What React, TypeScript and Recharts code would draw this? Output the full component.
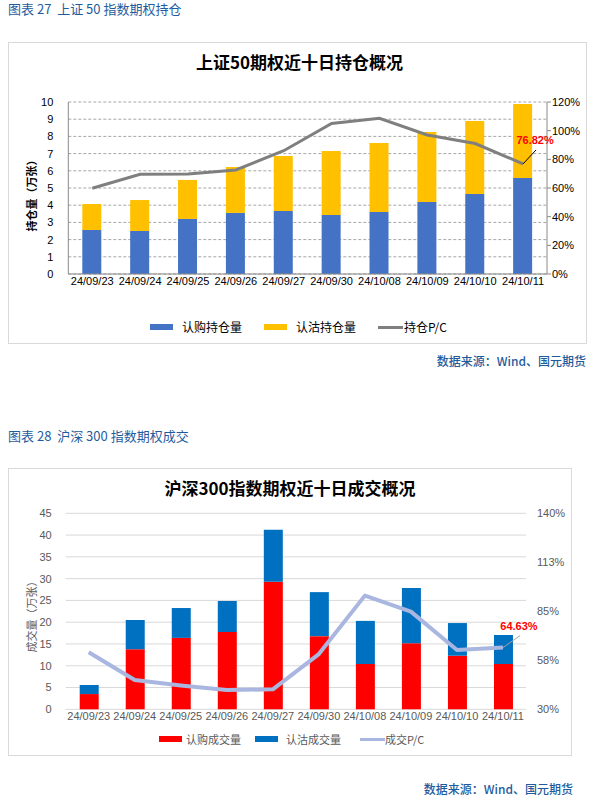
import React from 'react'
import {
  ComposedChart,
  Bar,
  Line,
  XAxis,
  YAxis,
  CartesianGrid,
  LabelList,
} from 'recharts'

// ─── Data ─────────────────────────────────────────────────────────────────────

const dates = [
  '24/09/23', '24/09/24', '24/09/25', '24/09/26', '24/09/27',
  '24/09/30', '24/10/08', '24/10/09', '24/10/10', '24/10/11',
]

// 上证50 持仓（万张）
const oiCall = [2.56, 2.5, 3.2, 3.55, 3.66, 3.43, 3.6, 4.19, 4.65, 5.58]
const oiPut = [1.51, 1.8, 2.27, 2.67, 3.2, 3.72, 4.02, 4.07, 4.25, 4.3]
const oiPC = [59.8, 69.6, 69.8, 72.6, 86.0, 105.0, 108.6, 97.0, 91.0, 76.82]

// 沪深300 成交（万张）
const volCall = [3.5, 13.8, 16.4, 17.75, 29.3, 16.8, 10.4, 15.15, 12.3, 10.4]
const volPut = [2.08, 6.7, 6.85, 7.11, 11.9, 10.1, 9.9, 12.7, 7.5, 6.65]
const volPC = [62.0, 46.4, 43.4, 40.8, 41.2, 61.0, 93.8, 84.8, 63.3, 64.63]

const oiLeftTicks = [0, 1, 2, 3, 4, 5, 6, 7, 8, 9, 10]
const oiRightTicks = [0, 20, 40, 60, 80, 100, 120]
const volLeftTicks = [0, 5, 10, 15, 20, 25, 30, 35, 40, 45]
const volRightTicks = [30, 57.5, 85, 112.5, 140]

const oiData = dates.map((d, i) => ({ date: d, call: oiCall[i], put: oiPut[i], pc: oiPC[i] }))
const volData = dates.map((d, i) => ({ date: d, call: volCall[i], put: volPut[i], pc: volPC[i] }))

// ─── Styles ───────────────────────────────────────────────────────────────────

const CJK = '"Noto Sans CJK SC", "Liberation Sans", sans-serif'
const NUM = '"Liberation Sans", Arial, sans-serif'
const BLUE_TEXT = '#1F5C9E'

const abs = (left: number, top: number, extra: React.CSSProperties = {}): React.CSSProperties => ({
  position: 'absolute',
  left,
  top,
  ...extra,
})

// ─── Last point label with leader line ────────────────────────────────────────

function makeLastLabel(lastIndex: number, dx: number, dy: number, lineColor: string) {
  return function LastLabel(props: any) {
    const { x, y, index, value } = props
    if (index !== lastIndex || x == null || y == null) return null
    return (
      <g>
        <line x1={x} y1={y} x2={x + dx} y2={y - dy} stroke={lineColor} strokeWidth={1} />
        <text
          x={x + dx - 1}
          y={y - dy - 6}
          textAnchor="middle"
          fill="#FF0000"
          fontSize={11}
          fontWeight="bold"
          fontFamily={NUM}
        >
          {`${Number(value).toFixed(2)}%`}
        </text>
      </g>
    )
  }
}

// ─── Legend item ──────────────────────────────────────────────────────────────

function LegendItem({
  left, top, color, line, label, fontSize, textColor, gap,
}: {
  left: number; top: number; color: string; line?: boolean; label: string
  fontSize: number; textColor: string; gap: number
}) {
  return (
    <div style={abs(left, top, { display: 'flex', alignItems: 'center', whiteSpace: 'nowrap' })}>
      <span
        style={{
          display: 'inline-block',
          width: line ? 25 : 23,
          height: line ? 3 : 6,
          background: color,
          marginRight: gap,
        }}
      />
      <span style={{ fontFamily: CJK, fontSize, color: textColor, lineHeight: '14px' }}>{label}</span>
    </div>
  )
}

// ─── App ──────────────────────────────────────────────────────────────────────

export default function App() {
  return (
    <div style={{ position: 'absolute', left: 0, top: 0, width: 595, height: 803, background: '#fff' }}>
      {/* ── 图表 27 ── */}
      <div style={abs(8, 0, { fontFamily: CJK, fontSize: 13, color: BLUE_TEXT, lineHeight: '17px' })}>
        图表 27&nbsp; 上证 50 指数期权持仓
      </div>
      <div style={abs(8, 42, { width: 577, height: 300, border: '1px solid #D9D9D9' })} />
      <div
        style={abs(0, 50, {
          width: 595,
          textAlign: 'center',
          fontFamily: CJK,
          fontSize: 17,
          fontWeight: 'bold',
          color: '#000',
          lineHeight: '24px',
          paddingLeft: 2,
        })}
      >
        上证50期权近十日持仓概况
      </div>
      <div
        style={abs(31, 193, {
          transform: 'translate(-50%, -50%) rotate(-90deg)',
          fontFamily: CJK,
          fontSize: 11,
          fontWeight: 'bold',
          color: '#000',
          whiteSpace: 'nowrap',
        })}
      >
        持仓量（万张）
      </div>
      <div style={abs(0, 0)}>
        <ComposedChart
          width={595}
          height={350}
          data={oiData}
          margin={{ top: 102, right: 8, bottom: 56, left: 28.3 }}
          barSize={19}
        >
          <CartesianGrid vertical={false} yAxisId="left" stroke="#A6A6A6" strokeDasharray="3 2" />
          <XAxis
            dataKey="date"
            height={20}
            axisLine={{ stroke: '#898989' }}
            tickLine={false}
            tickSize={0}
            tickMargin={3}
            interval={0}
            tick={{ fontSize: 11, fill: '#000', fontFamily: NUM }}
          />
          <YAxis
            yAxisId="left"
            width={40}
            domain={[0, 10]}
            ticks={oiLeftTicks}
            interval={0}
            axisLine={{ stroke: '#898989' }}
            tickLine={false}
            tickSize={0}
            tickMargin={15}
            tick={{ fontSize: 11, fill: '#000', fontFamily: NUM }}
          />
          <YAxis
            yAxisId="right"
            orientation="right"
            width={40}
            domain={[0, 120]}
            ticks={oiRightTicks}
            interval={0}
            axisLine={{ stroke: '#898989' }}
            tickLine={{ stroke: '#898989' }}
            tickSize={4}
            tickMargin={1}
            tickFormatter={(v: number) => `${v}%`}
            tick={{ fontSize: 11, fill: '#000', fontFamily: NUM }}
          />
          <Bar yAxisId="left" dataKey="call" stackId="oi" fill="#4472C4" isAnimationActive={false} />
          <Bar yAxisId="left" dataKey="put" stackId="oi" fill="#FFC000" isAnimationActive={false} />
          <Line
            yAxisId="right"
            dataKey="pc"
            stroke="#7F7F7F"
            strokeWidth={3}
            dot={false}
            activeDot={false}
            isAnimationActive={false}
          >
            <LabelList dataKey="pc" content={makeLastLabel(9, 13, 14, '#000')} />
          </Line>
        </ComposedChart>
      </div>
      <LegendItem left={150} top={320} color="#4472C4" label="认购持仓量" fontSize={12} textColor="#000" gap={9} />
      <LegendItem left={264} top={320} color="#FFC000" label="认沽持仓量" fontSize={12} textColor="#000" gap={9} />
      <LegendItem left={378} top={320} color="#7F7F7F" line label="持仓P/C" fontSize={12} textColor="#000" gap={1} />
      <div
        style={abs(0, 353, {
          width: 586,
          textAlign: 'right',
          fontFamily: CJK,
          fontSize: 12,
          fontWeight: 500,
          color: BLUE_TEXT,
          lineHeight: '16px',
        })}
      >
        数据来源：Wind、国元期货
      </div>

      {/* ── 图表 28 ── */}
      <div style={abs(8, 427, { fontFamily: CJK, fontSize: 13, color: BLUE_TEXT, lineHeight: '17px' })}>
        图表 28&nbsp; 沪深 300 指数期权成交
      </div>
      <div style={abs(8, 468, { width: 562, height: 286, border: '1px solid #D9D9D9' })} />
      <div
        style={abs(0, 476, {
          width: 580,
          textAlign: 'center',
          fontFamily: CJK,
          fontSize: 17,
          fontWeight: 'bold',
          color: '#000',
          lineHeight: '24px',
        })}
      >
        沪深300指数期权近十日成交概况
      </div>
      <div
        style={abs(31, 614, {
          transform: 'translate(-50%, -50%) rotate(-90deg)',
          fontFamily: CJK,
          fontSize: 11,
          color: '#595959',
          whiteSpace: 'nowrap',
        })}
      >
        成交量（万张）
      </div>
      <div style={abs(0, 400)}>
        <ComposedChart
          width={595}
          height={360}
          data={volData}
          margin={{ top: 113.3, right: 29, bottom: 30.7, left: 25.7 }}
          barSize={19}
        >
          <CartesianGrid vertical={false} yAxisId="left" stroke="#D9D9D9" />
          <XAxis
            dataKey="date"
            height={20}
            axisLine={false}
            tickLine={false}
            tickSize={0}
            tickMargin={3}
            interval={0}
            tick={{ fontSize: 11, fill: '#595959', fontFamily: NUM }}
          />
          <YAxis
            yAxisId="left"
            width={40}
            domain={[0, 45]}
            ticks={volLeftTicks}
            interval={0}
            axisLine={false}
            tickLine={false}
            tickSize={0}
            tickMargin={14}
            tick={{ fontSize: 11, fill: '#595959', fontFamily: NUM }}
          />
          <YAxis
            yAxisId="right"
            orientation="right"
            width={40}
            domain={[30, 140]}
            ticks={volRightTicks}
            interval={0}
            axisLine={false}
            tickLine={false}
            tickSize={0}
            tickMargin={11}
            tickFormatter={(v: number) => `${Math.round(v)}%`}
            tick={{ fontSize: 11, fill: '#595959', fontFamily: NUM }}
          />
          <Bar yAxisId="left" dataKey="call" stackId="vol" fill="#FF0000" isAnimationActive={false} />
          <Bar yAxisId="left" dataKey="put" stackId="vol" fill="#0070C0" isAnimationActive={false} />
          <Line
            yAxisId="right"
            dataKey="pc"
            stroke="#A9B7E0"
            strokeWidth={4}
            strokeLinejoin="round"
            dot={false}
            activeDot={false}
            isAnimationActive={false}
          >
            <LabelList dataKey="pc" content={makeLastLabel(9, 17, 12, '#A6A6A6')} />
          </Line>
        </ComposedChart>
      </div>
      <LegendItem left={159} top={732} color="#FF0000" label="认购成交量" fontSize={11} textColor="#595959" gap={4} />
      <LegendItem left={255} top={732} color="#0070C0" label="认沽成交量" fontSize={11} textColor="#595959" gap={8} />
      <LegendItem left={360} top={732} color="#A9B7E0" line label="成交P/C" fontSize={11} textColor="#595959" gap={0} />
      <div
        style={abs(0, 781, {
          width: 573,
          textAlign: 'right',
          fontFamily: CJK,
          fontSize: 12,
          fontWeight: 500,
          color: BLUE_TEXT,
          lineHeight: '16px',
        })}
      >
        数据来源：Wind、国元期货
      </div>
    </div>
  )
}
